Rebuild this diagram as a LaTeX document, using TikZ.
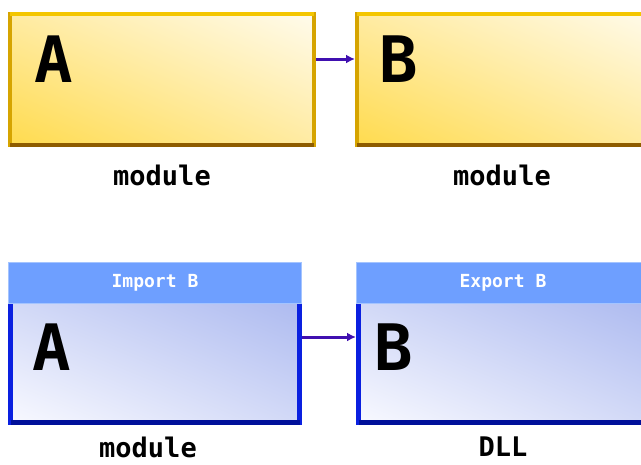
\documentclass[tikz,border=0pt]{standalone}
\usepackage{fontspec}
\newfontfamily\dejamono{DejaVu Sans Mono}
\usepackage{tikz}
\usetikzlibrary{arrows.meta,calc,positioning,shadings}
\definecolor{goldtop}{HTML}{F4C600}
\definecolor{goldside}{HTML}{D6A400}
\definecolor{goldbase}{HTML}{8E5C00}
\definecolor{yellowdeep}{HTML}{FFDB4E}
\definecolor{yellowmid}{HTML}{FFEBA2}
\definecolor{yellowpale}{HTML}{FFFBEC}
\definecolor{bluerim}{HTML}{0A20E0}
\definecolor{bluebase}{HTML}{00109A}
\definecolor{hdrfill}{HTML}{6E9FFF}
\definecolor{hdrline}{HTML}{A4C4FF}
\definecolor{bluedeep}{HTML}{AEBBF0}
\definecolor{bluemid}{HTML}{D2D9F7}
\definecolor{bluepale}{HTML}{F8F9FF}
\definecolor{linkcol}{HTML}{4010B0}
\tikzset{
  modbox/.style={lower left=yellowdeep, upper right=yellowpale,
    upper left=yellowmid, lower right=yellowmid, draw=goldside,
    line width=4pt, anchor=north west, inner sep=0pt, outer sep=0pt,
    minimum height=131pt},
  dllbody/.style={lower left=bluepale, upper right=bluedeep,
    upper left=bluemid, lower right=bluemid, anchor=north west,
    inner sep=0pt, outer sep=0pt, minimum height=119.5pt},
  dllhead/.style={fill=hdrfill, draw=hdrline, line width=1pt, anchor=north west,
    inner sep=0pt, outer sep=0pt, minimum height=41pt, text=white,
    font=\dejamono\bfseries\fontsize{18}{18}\selectfont},
  bigletter/.style={anchor=base west, inner sep=0pt,
    font=\dejamono\bfseries\fontsize{64}{64}\selectfont},
  caption/.style={inner sep=0.5pt, font=\dejamono\bfseries\fontsize{27}{27}\selectfont},
  link/.style={draw=linkcol, line width=3pt, -{Latex[length=9pt,width=9pt]}}
}
\begin{document}
\begin{tikzpicture}[x=1pt,y=-1pt]
            \useasboundingbox (0,0) rectangle (641,464);
            \clip (0,0) rectangle (641,464);
            % Two plain modules on top
            \node[modbox, minimum width=304pt] (modA) at (10,14) {};
            \draw[goldtop, line width=4pt] (modA.north west) -- (modA.north east);
            \draw[goldbase, line width=4pt] (modA.south west) -- (modA.south east);
            \node[modbox, minimum width=304pt] (modB) at (357,14) {};
            \draw[goldtop, line width=4pt] (modB.north west) -- (modB.north east);
            \draw[goldbase, line width=4pt] (modB.south west) -- (modB.south east);
            \node[bigletter] (letA) at (34,82) {A};
            \node[bigletter] (letB) at (379,82) {B};
            \draw[link] ($(modA.north east)+(2,45)$) -- ($(modB.north west)+(-2,45)$);
            \node[caption] (capA) at (162,175) {module};
            \node[caption] (capB) at (502,175) {module};
            % Module importing from the DLL below
            \node[dllbody, minimum width=289pt] (bodyA) at (10.5,303) {};
            \draw[bluerim, line width=5pt] (bodyA.north west) -- (bodyA.south west) -- (bodyA.south east) -- (bodyA.north east);
            \draw[bluebase, line width=5pt] (bodyA.south west) -- (bodyA.south east);
            \node[dllhead, minimum width=293pt] (hdrA) at (8.5,262.5) {Import B};
            \node[dllbody, minimum width=289pt] (bodyB) at (358.5,303) {};
            \draw[bluerim, line width=5pt] (bodyB.north west) -- (bodyB.south west) -- (bodyB.south east) -- (bodyB.north east);
            \draw[bluebase, line width=5pt] (bodyB.south west) -- (bodyB.south east);
            \node[dllhead, minimum width=293pt] (hdrB) at (356.5,262.5) {Export B};
            \node[bigletter] (letC) at (32,370) {A};
            \node[bigletter] (letD) at (374,370) {B};
            \draw[link] ($(bodyA.north east)+(2.5,34)$) -- ($(bodyB.north west)+(-2.5,34)$);
            \node[caption] (capC) at (148,447) {module};
            \node[caption] (capD) at (503,447) {DLL};
\end{tikzpicture}
\end{document}
